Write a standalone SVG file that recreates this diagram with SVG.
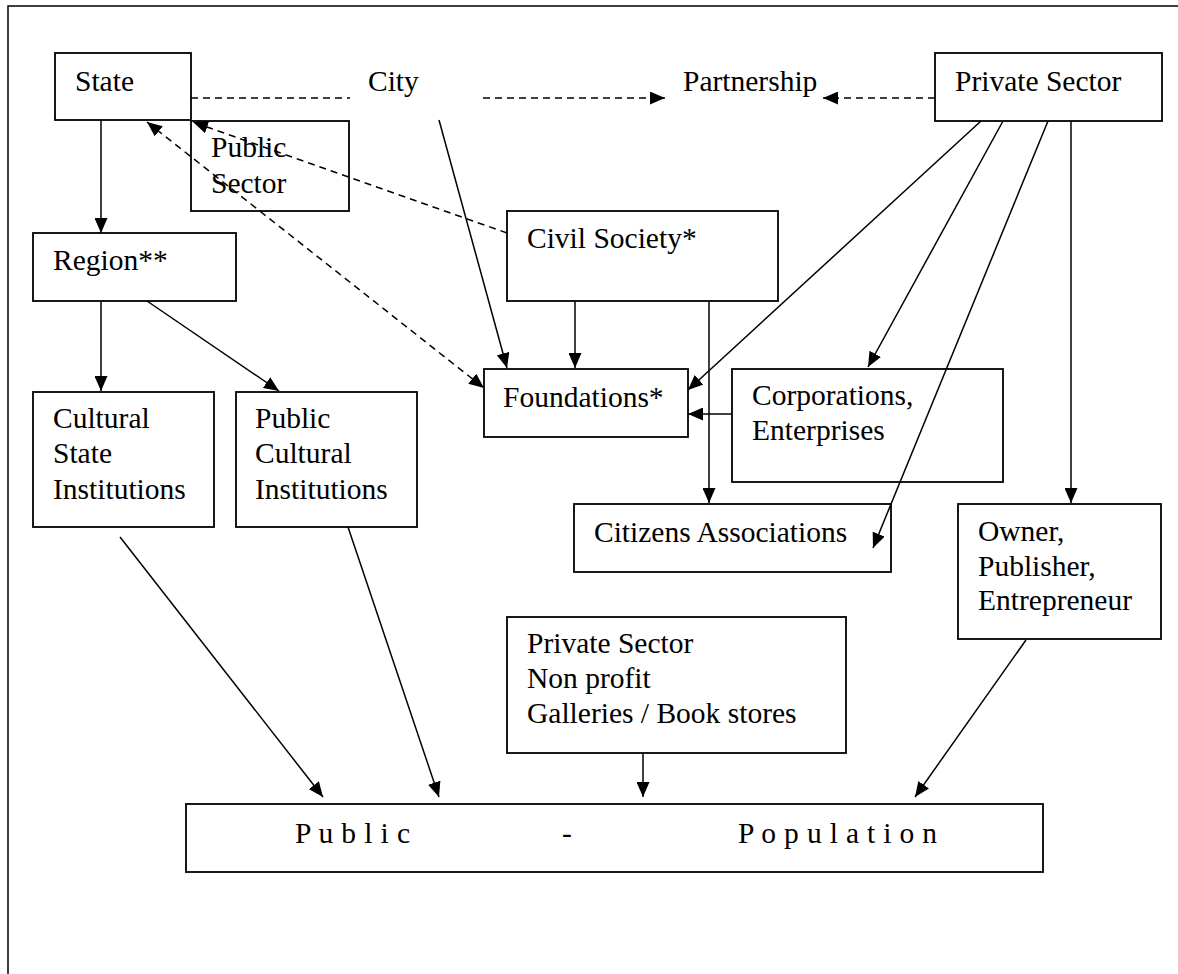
<svg xmlns="http://www.w3.org/2000/svg" width="1178" height="974" viewBox="0 0 1178 974">
<style>
text{font-family:"Liberation Serif","Times New Roman",serif;font-size:29.5px;fill:#000}
.box{fill:#fff;stroke:#000;stroke-width:1.8}
.c{stroke:#000;stroke-width:1.5;fill:none}
.a{marker-end:url(#ah)}
.d{stroke-dasharray:7 5}
.frame{stroke:#000;stroke-width:1.5;fill:none}
</style>
<defs>
<marker id="ah" markerUnits="userSpaceOnUse" markerWidth="15" markerHeight="13" refX="15" refY="6.5" orient="auto-start-reverse" viewBox="0 0 15 13">
<path d="M0,0 L15,6.5 L0,13 z" fill="#000"/>
</marker>
</defs>
<rect width="1178" height="974" fill="#fff"/>
<path class="frame" d="M8,974 V6 H1178"/>

<g id="state"><rect class="box" x="55" y="53" width="136" height="67"/><text x="75" y="91">State</text></g>
<g id="public-sector"><rect class="box" x="191" y="121" width="158" height="90"/><text x="211" y="157">Public</text><text x="211" y="193">Sector</text></g>
<g id="city"><text x="368" y="91">City</text></g>
<g id="partnership"><text x="683" y="91">Partnership</text></g>
<g id="private-sector"><rect class="box" x="935" y="53" width="227" height="68"/><text x="955" y="91">Private Sector</text></g>
<g id="region"><rect class="box" x="33" y="233" width="203" height="68"/><text x="53" y="270">Region**</text></g>
<g id="civil-society"><rect class="box" x="507" y="211" width="271" height="90"/><text x="527" y="248">Civil Society*</text></g>
<g id="foundations"><rect class="box" x="484" y="369" width="204" height="68"/><text x="503" y="407">Foundations*</text></g>
<g id="corporations"><rect class="box" x="732" y="369" width="271" height="113"/><text x="752" y="405">Corporations,</text><text x="752" y="440">Enterprises</text></g>
<g id="cultural-state"><rect class="box" x="33" y="392" width="181" height="135"/><text x="53" y="428">Cultural</text><text x="53" y="463">State</text><text x="53" y="499">Institutions</text></g>
<g id="public-cultural"><rect class="box" x="236" y="392" width="181" height="135"/><text x="255" y="428">Public</text><text x="255" y="463">Cultural</text><text x="255" y="499">Institutions</text></g>
<g id="citizens"><rect class="box" x="574" y="504" width="317" height="68"/><text x="594" y="542">Citizens Associations</text></g>
<g id="owner"><rect class="box" x="958" y="504" width="203" height="135"/><text x="978" y="541">Owner,</text><text x="978" y="576">Publisher,</text><text x="978" y="610">Entrepreneur</text></g>
<g id="nonprofit"><rect class="box" x="507" y="617" width="339" height="136"/><text x="527" y="653">Private Sector</text><text x="527" y="688">Non profit</text><text x="527" y="723">Galleries / Book stores</text></g>
<g id="population"><rect class="box" x="186" y="804" width="857" height="68"/><text x="295" y="843" textLength="115" lengthAdjust="spacing">P u b l i c</text><text x="562" y="843">-</text><text x="738" y="843" textLength="199" lengthAdjust="spacing">P o p u l a t i o n</text></g>

<g id="connectors">
<line class="c d" x1="191" y1="98" x2="350" y2="98"/>
<line class="c d a" x1="483" y1="98" x2="665" y2="98"/>
<line class="c d a" x1="935" y1="98" x2="823" y2="98"/>
<line class="c d a" x1="507" y1="233" x2="193" y2="122"/>
<line class="c d a" x1="147" y1="122" x2="484" y2="388" marker-start="url(#ah)"/>
<line class="c a" x1="101" y1="120" x2="101" y2="233"/>
<line class="c a" x1="101" y1="301" x2="101" y2="391"/>
<line class="c a" x1="147" y1="301" x2="279" y2="391"/>
<line class="c a" x1="439" y1="120" x2="507" y2="368"/>
<line class="c a" x1="575" y1="301" x2="575" y2="368"/>
<line class="c a" x1="709" y1="301" x2="709" y2="503"/>
<line class="c a" x1="981" y1="121" x2="688" y2="390"/>
<line class="c a" x1="1003" y1="121" x2="868" y2="367"/>
<line class="c a" x1="1048" y1="121" x2="873" y2="548"/>
<line class="c a" x1="1071" y1="121" x2="1071" y2="503"/>
<line class="c a" x1="732" y1="414" x2="688" y2="414"/>
<line class="c a" x1="120" y1="537" x2="323" y2="797"/>
<line class="c a" x1="348" y1="527" x2="439" y2="797"/>
<line class="c a" x1="643" y1="753" x2="643" y2="797"/>
<line class="c a" x1="1026" y1="640" x2="915" y2="797"/>
</g>
</svg>
